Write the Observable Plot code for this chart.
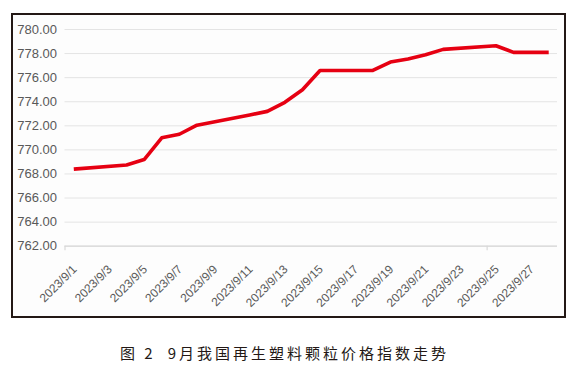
<!DOCTYPE html>
<html>
<head>
<meta charset="utf-8">
<script src="https://cdn.jsdelivr.net/npm/d3@7"></script>
<script src="https://cdn.jsdelivr.net/npm/@observablehq/plot@0.6"></script>
<style>
  html, body { margin: 0; padding: 0; background: #ffffff; }
  #wrap { position: relative; width: 582px; height: 390px; overflow: hidden; }
  #box { position: absolute; left: 11px; top: 13px; width: 551px; height: 301px;
         border: 2px solid #231815; background: #fdfdfd; }
  #chart { position: absolute; left: 0; top: 0; }
  #caption { position: absolute; left: 120px; top: 342px; font-family: "Noto Sans CJK SC", sans-serif;
             font-size: 15px; letter-spacing: 3px; color: #231815; white-space: nowrap; }
  #caption .gap { display: inline-block; width: 12px; }
</style>
</head>
<body>
<div id="wrap">
  <div id="box"></div>
  <div id="chart"></div>
  <div id="caption">图 2<span class="gap"></span>9月我国再生塑料颗粒价格指数走势</div>
</div>
<script>
// Data (trading days of September 2023)
const dates = ["2023-09-01","2023-09-04","2023-09-05","2023-09-06","2023-09-07","2023-09-08",
               "2023-09-11","2023-09-12","2023-09-13","2023-09-14","2023-09-15",
               "2023-09-18","2023-09-19","2023-09-20","2023-09-21","2023-09-22",
               "2023-09-25","2023-09-26","2023-09-27","2023-09-28"];
const values = [768.40, 768.75, 769.20, 771.00, 771.30, 772.05,
                772.90, 773.20, 773.95, 775.00, 776.60,
                776.60, 777.30, 777.55, 777.90, 778.35,
                778.65, 778.10, 778.10, 778.10];
const labelDays = ["2023-09-01","2023-09-03","2023-09-05","2023-09-07","2023-09-09","2023-09-11","2023-09-13",
                   "2023-09-15","2023-09-17","2023-09-19","2023-09-21","2023-09-23","2023-09-25","2023-09-27"];
const yTicks = [762, 764, 766, 768, 770, 772, 774, 776, 778, 780];

const parse = s => new Date(s + "T00:00:00Z");
const data = dates.map((d, i) => ({date: parse(d), value: values[i]}));
const HALF = 12 * 3600 * 1000;
const start = new Date(parse("2023-09-01").getTime() - HALF);
const end = new Date(parse("2023-09-28").getTime() + HALF);
// category boundaries every two days
const boundaries = d3.range(0, 15).map(k => new Date(start.getTime() + k * 2 * 24 * HALF));
const labelDates = labelDays.map(parse);

const chart = Plot.plot({
  width: 582,
  height: 322,
  marginLeft: 64.5,
  marginRight: 25,
  marginTop: 29,
  marginBottom: 76.3,
  style: {background: "transparent", fontFamily: "'Liberation Sans', Arial, sans-serif"},
  x: {type: "utc", domain: [start, end]},
  y: {domain: [762, 780]},
  marks: [
    Plot.gridY(yTicks, {stroke: "#e4e4e4", strokeOpacity: 1, strokeWidth: 1}),
    Plot.ruleY([762], {stroke: "#d9d9d9", strokeWidth: 1.2}),
    Plot.axisX(boundaries, {tickSize: 4.5, tickFormat: () => "", stroke: "#d9d9d9", strokeWidth: 1.2}),
    Plot.axisX(labelDates, {tickSize: 0, tickPadding: 21, tickRotate: -45, dx: 1,
      tickFormat: d => `${d.getUTCFullYear()}/${d.getUTCMonth() + 1}/${d.getUTCDate()}`,
      fontSize: 12, fill: "#595959", label: null}),
    Plot.axisY(yTicks, {tickSize: 0, tickPadding: 8, tickFormat: d => d.toFixed(2),
      fontSize: 13, fill: "#595959", label: null}),
    Plot.lineY(data, {x: "date", y: "value", stroke: "#e60012", strokeWidth: 3.6,
      strokeLinejoin: "round", strokeLinecap: "butt"})
  ]
});
document.getElementById("chart").appendChild(chart);
</script>
</body>
</html>
